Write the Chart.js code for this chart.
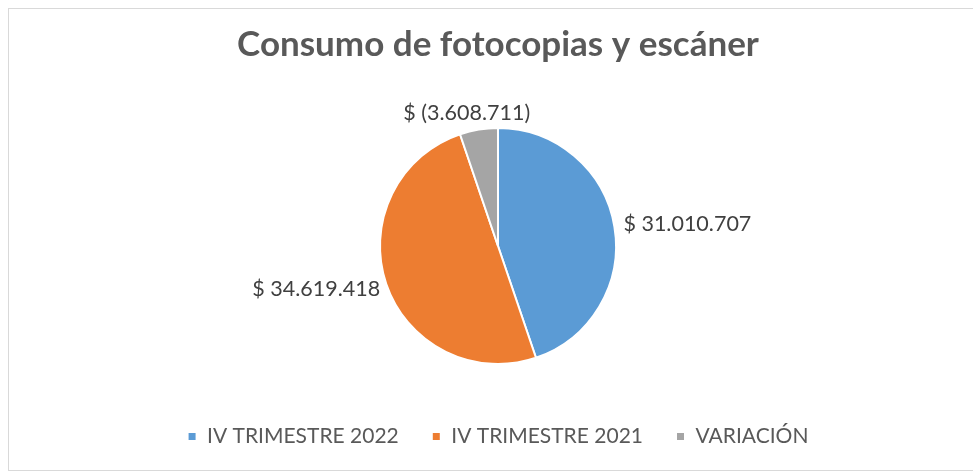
<!DOCTYPE html>
<html>
<head>
<meta charset="utf-8">
<script src="https://cdn.jsdelivr.net/npm/chart.js@4.4.1/dist/chart.umd.min.js"></script>
<style>
    html, body { margin: 0; padding: 0; background: #fff; }
    #wrap { position: relative; width: 973px; height: 472px; }
    #frame { position: absolute; left: 8px; top: 8px; width: 972px; height: 461px; border: 1px solid #d9d9d9; pointer-events: none; }
</style>
</head>
<body>
<div id="wrap">
    <canvas id="myChart" width="973" height="472"></canvas>
    <div id="frame"></div>
</div>
<script>
const labels = ['IV TRIMESTRE 2022', 'IV TRIMESTRE 2021', 'VARIACIÓN'];
const values = [31010707, 34619418, 3608711];
const valueLabels = ['$ 31.010.707', '$ 34.619.418', '$ (3.608.711)'];
const colors = ['#5b9bd5', '#ed7d31', '#a5a5a5'];

// etiquetas fuera del borde, como en Excel
const outsideLabels = {
    id: 'outsideLabels',
    afterDatasetsDraw(chart) {
        const ctx = chart.ctx;
        const meta = chart.getDatasetMeta(0);
        ctx.save();
        ctx.font = '21.5px Lato';
        ctx.fillStyle = '#404040';
        ctx.textAlign = 'center';
        ctx.textBaseline = 'middle';
        meta.data.forEach(function (arc, i) {
            const p = arc.getProps(['x', 'y', 'startAngle', 'endAngle', 'outerRadius'], true);
            const mid = (p.startAngle + p.endAngle) / 2;
            const dx = Math.cos(mid);
            const dy = Math.sin(mid);
            const r = p.outerRadius + 10;
            const text = valueLabels[i];
            const w = ctx.measureText(text).width;
            const h = 14;
            const cx = p.x + dx * r + dx * w / 2;
            const cy = p.y + dy * r + dy * h / 2;
            ctx.fillText(text, cx, cy);
        });
        ctx.restore();
    }
};

const config = {
    type: 'pie',
    data: {
        labels: labels,
        datasets: [{
            data: values,
            backgroundColor: colors,
            borderColor: '#ffffff',
            borderWidth: 2,
            radius: 118
        }]
    },
    options: {
        responsive: false,
        animation: false,
        layout: {
            padding: { left: 23, top: 0, bottom: 15 }
        },
        plugins: {
            title: {
                display: true,
                text: 'Consumo de fotocopias y escáner',
                color: '#595959',
                font: { family: 'Lato', size: 35, weight: 'bold' },
                padding: { top: 24, bottom: 33 }
            },
            legend: {
                position: 'bottom',
                labels: {
                    color: '#595959',
                    font: { family: 'Lato', size: 21 },
                    boxWidth: 9,
                    boxHeight: 9,
                    padding: 33
                }
            },
            tooltip: { enabled: false }
        }
    },
    plugins: [outsideLabels]
};

const myChart = new Chart(document.getElementById('myChart'), config);
</script>
</body>
</html>
